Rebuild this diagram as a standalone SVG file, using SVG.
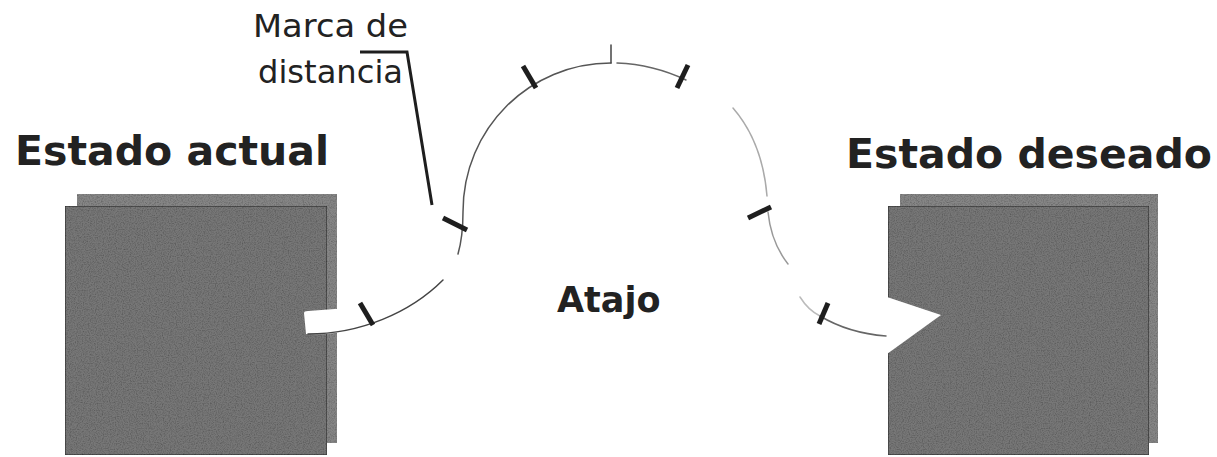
<svg xmlns="http://www.w3.org/2000/svg" width="1217" height="457" viewBox="0 0 1217 457">
  <defs>
    <filter id="grain" x="0" y="0" width="100%" height="100%">
      <feTurbulence type="fractalNoise" baseFrequency="0.85" numOctaves="2" seed="7" result="n"/>
      <feColorMatrix in="n" type="matrix" values="0 0 0 0 0  0 0 0 0 0  0 0 0 0 0  0 0 0 -0.9 0.55" result="a"/>
      <feComposite in="a" in2="SourceGraphic" operator="in" result="c"/>
      <feMerge><feMergeNode in="SourceGraphic"/><feMergeNode in="c"/></feMerge>
    </filter>
    <style>
      .back { fill: #868686; filter: url(#grain); }
      .front { fill: #777777; stroke: #333; stroke-width: 1.2; filter: url(#grain); }
      .title { font-family: "DejaVu Sans", Verdana, sans-serif; font-weight: bold; font-size: 41px; fill: #222; }
      .label { font-family: "DejaVu Sans", Verdana, sans-serif; font-size: 32px; fill: #222; }
      .arc { fill: none; stroke-width: 1.5; stroke-linecap: round; }
      .tick { stroke: #1e1e1e; stroke-width: 5; stroke-linecap: butt; }
      .notch { fill: #ffffff; stroke: none; }
    </style>
  </defs>
  <rect width="1217" height="457" fill="#ffffff"/>

  <g id="estado-actual">
    <rect class="back" x="77" y="194" width="260" height="249"/>
    <rect class="front" x="65" y="206" width="262" height="249"/>
    <path class="notch" d="M304 313 Q304 311 308 311 L348 308 L356 328 Q332 336 306 334 Z"/>
    <text class="title" x="15" y="165">Estado actual</text>
  </g>

  <g id="estado-deseado">
    <rect class="back" x="900" y="194" width="258" height="249"/>
    <rect class="front" x="888" y="206" width="261" height="249"/>
    <path class="notch" d="M870 296 L887 297 L941 315 L887 354 L870 352 Z"/>
    <text class="title" x="846" y="168">Estado deseado</text>
  </g>

  <g id="atajo">
    <text class="title" x="557" y="312" style="font-size:35px">Atajo</text>
  </g>

  <g id="marca-de-distancia">
    <text class="label" x="253" y="37" textLength="155" lengthAdjust="spacingAndGlyphs">Marca de</text>
    <text class="label" x="258" y="83" textLength="145" lengthAdjust="spacingAndGlyphs">distancia</text>
    <path d="M360 52 L407 52 L432 205" fill="none" stroke="#1e1e1e" stroke-width="3" stroke-linejoin="miter"/>
  </g>

  <g id="connectors">
    <path class="arc" stroke="#444" d="M308 334 C360 334 410 313 443 280"/>
    <path class="arc" stroke="#555" d="M458 254 C462 240 463 225 463 212 C463 128 530 63 611 63"/>
    <path class="arc" stroke="#444" stroke-width="1" d="M611 63 L611 45"/>
    <path class="arc" stroke="#666" d="M617 63 C642 64 665 70 686 80"/>
    <path class="arc" stroke="#aaa" d="M733 108 C752 130 764 160 767 196"/>
    <path class="arc" stroke="#999" d="M768 212 C770 232 777 250 788 264"/>
    <path class="arc" stroke="#bbb" d="M800 297 C805 305 812 312 820 316"/>
    <path class="arc" stroke="#666" d="M820 316 C840 328 860 334 886 336"/>
    <line class="tick" x1="523" y1="66" x2="536" y2="88"/>
    <line class="tick" x1="688" y1="65" x2="677" y2="88"/>
    <line class="tick" x1="443" y1="218" x2="467" y2="230"/>
    <line class="tick" x1="771" y1="207" x2="748" y2="218"/>
    <line class="tick" x1="360" y1="303" x2="373" y2="325"/>
    <line class="tick" x1="828" y1="303" x2="819" y2="324"/>
  </g>
</svg>
